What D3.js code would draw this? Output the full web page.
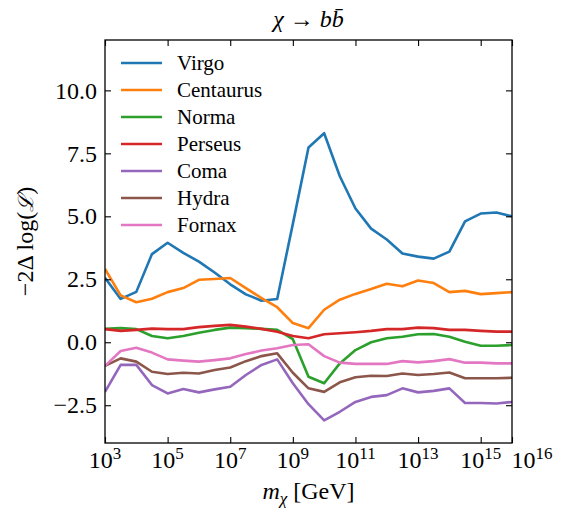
<!DOCTYPE html>
<html>
<head>
<meta charset="utf-8">
<script src="https://cdn.jsdelivr.net/npm/d3@7"></script>
<style>
  body { margin: 0; background: #fff; }
</style>
</head>
<body>
<div class="visHolder"></div>
<script>
// log10 of the mass grid (GeV)
const logMass = [3, 3.5, 4, 4.5, 5, 5.5, 6, 6.5, 7, 7.5, 8, 8.5, 9, 9.5,
  10, 10.5, 11, 11.5, 12, 12.5, 13, 13.5, 14, 14.5, 15, 15.5, 16];

const clusters = ['Virgo', 'Centaurus', 'Norma', 'Perseus', 'Coma', 'Hydra', 'Fornax'];
const colors = ['#1f77b4', '#ff7f0e', '#2ca02c', '#d62728', '#9467bd', '#8c564b', '#e377c2'];

const virgo = [2.56, 1.72, 2.0, 3.5, 3.95, 3.55, 3.2, 2.77, 2.3, 1.9, 1.65, 1.72, 4.7, 7.73,
  8.3, 6.59, 5.31, 4.51, 4.08, 3.52, 3.4, 3.32, 3.6, 4.8, 5.11, 5.15, 5.0];
const centaurus = [2.91, 1.86, 1.59, 1.73, 1.99, 2.15, 2.48, 2.51, 2.55, 2.15, 1.75, 1.39, 0.76, 0.56,
  1.29, 1.69, 1.92, 2.11, 2.32, 2.22, 2.45, 2.35, 1.99, 2.04, 1.91, 1.95, 1.99];
const norma = [0.53, 0.56, 0.52, 0.25, 0.16, 0.25, 0.38, 0.49, 0.58, 0.56, 0.53, 0.49, 0.12, -1.37,
  -1.63, -0.84, -0.31, 0.0, 0.16, 0.22, 0.32, 0.33, 0.22, 0.02, -0.14, -0.14, -0.11];
const perseus = [0.52, 0.45, 0.49, 0.54, 0.52, 0.52, 0.6, 0.65, 0.69, 0.62, 0.53, 0.42, 0.25, 0.16,
  0.32, 0.36, 0.4, 0.45, 0.52, 0.52, 0.58, 0.56, 0.49, 0.49, 0.45, 0.42, 0.42];
const coma = [-1.97, -0.9, -0.9, -1.7, -2.03, -1.86, -1.99, -1.87, -1.77, -1.3, -0.9, -0.68, -1.63, -2.46,
  -3.1, -2.76, -2.37, -2.17, -2.1, -1.83, -1.99, -1.93, -1.83, -2.41, -2.41, -2.43, -2.37];
const hydra = [-0.94, -0.64, -0.77, -1.17, -1.26, -1.21, -1.24, -1.1, -1.0, -0.75, -0.55, -0.44, -1.21, -1.83,
  -1.97, -1.59, -1.39, -1.33, -1.34, -1.24, -1.3, -1.26, -1.2, -1.43, -1.43, -1.43, -1.41];
const fornax = [-0.94, -0.35, -0.22, -0.41, -0.68, -0.73, -0.77, -0.71, -0.64, -0.47, -0.33, -0.24, -0.11, -0.08,
  -0.55, -0.81, -0.86, -0.86, -0.86, -0.75, -0.8, -0.75, -0.67, -0.81, -0.81, -0.84, -0.84];

const xTickExp = [3, 5, 7, 9, 11, 13, 15, 16];
const yTicks = [-2.5, 0.0, 2.5, 5.0, 7.5, 10.0];

const series = [virgo, centaurus, norma, perseus, coma, hydra, fornax];

const w = 565, h = 518;
const padLeft = 105, padRight = 512, padTop = 40, padBottom = 443;
const serif = "'Liberation Serif', 'DejaVu Serif', serif";

const svg = d3.select('.visHolder')
  .append('svg')
  .attr('width', w)
  .attr('height', h)
  .style('display', 'block');

const xScale = d3.scaleLog()
  .domain([1e3, 1e16])
  .range([padLeft, padRight]);

const yScale = d3.scaleLinear()
  .domain([-4, 12])
  .range([padBottom, padTop]);

// lines
const line = d3.line()
  .x((d, i) => xScale(Math.pow(10, logMass[i])))
  .y(d => yScale(d));

const plot = svg.append('g');
plot.append('clipPath').attr('id', 'clip')
  .append('rect')
  .attr('x', padLeft).attr('y', padTop)
  .attr('width', padRight - padLeft).attr('height', padBottom - padTop);

plot.selectAll('path.curve')
  .data(series)
  .join('path')
  .attr('class', 'curve')
  .attr('clip-path', 'url(#clip)')
  .attr('fill', 'none')
  .attr('stroke', (d, i) => colors[i])
  .attr('stroke-width', 2.6)
  .attr('stroke-linejoin', 'round')
  .attr('d', line);

// axes: ticks pointing inward on all four sides
const xVals = xTickExp.map(e => Math.pow(10, e));
const tickLen = 6;

const styleAxis = g => {
  g.select('.domain').remove();
  g.selectAll('line').attr('stroke', '#000').attr('stroke-width', 1.1);
  g.selectAll('text').remove();
};

svg.append('g')
  .attr('transform', `translate(0, ${padBottom})`)
  .call(d3.axisTop(xScale).tickValues(xVals).tickSize(tickLen).tickFormat(''))
  .call(styleAxis);
svg.append('g')
  .attr('transform', `translate(0, ${padTop})`)
  .call(d3.axisBottom(xScale).tickValues(xVals).tickSize(tickLen).tickFormat(''))
  .call(styleAxis);
svg.append('g')
  .attr('transform', `translate(${padLeft}, 0)`)
  .call(d3.axisRight(yScale).tickValues(yTicks).tickSize(tickLen).tickFormat(''))
  .call(styleAxis);
svg.append('g')
  .attr('transform', `translate(${padRight}, 0)`)
  .call(d3.axisLeft(yScale).tickValues(yTicks).tickSize(tickLen).tickFormat(''))
  .call(styleAxis);

// frame
svg.append('rect')
  .attr('x', padLeft).attr('y', padTop)
  .attr('width', padRight - padLeft).attr('height', padBottom - padTop)
  .attr('fill', 'none')
  .attr('stroke', '#000')
  .attr('stroke-width', 1.3);

// x tick labels 10^n (the last one sits right of the frame corner)
const xLab = svg.selectAll('text.xtick')
  .data(xTickExp)
  .join('text')
  .attr('class', 'xtick')
  .attr('font-family', serif)
  .attr('x', d => xScale(Math.pow(10, d)) + (d === 16 ? 20 : 0))
  .attr('y', 468)
  .attr('text-anchor', 'middle')
  .attr('font-size', 24);
xLab.append('tspan').text('10');
xLab.append('tspan')
  .attr('font-size', 17)
  .attr('dy', -9)
  .text(d => d);

// y tick labels
svg.selectAll('text.ytick')
  .data(yTicks)
  .join('text')
  .attr('class', 'ytick')
  .attr('font-family', serif)
  .attr('x', 97)
  .attr('y', d => yScale(d))
  .attr('dy', '0.34em')
  .attr('text-anchor', 'end')
  .attr('font-size', 24)
  .text(d => (d < 0 ? '\u2212' : '') + Math.abs(d).toFixed(1));

// title
const title = svg.append('text')
  .attr('font-family', serif)
  .attr('x', (padLeft + padRight) / 2)
  .attr('y', 27)
  .attr('text-anchor', 'middle')
  .attr('font-size', 24);
title.append('tspan').attr('font-style', 'italic').text('\u03c7');
title.append('tspan').text(' \u2192 ');
title.append('tspan').attr('font-style', 'italic').text('b');
title.append('tspan').attr('font-style', 'italic').text('b\u0304');

// x label
const xl = svg.append('text')
  .attr('font-family', serif)
  .attr('x', (padLeft + padRight) / 2)
  .attr('y', 499)
  .attr('text-anchor', 'middle')
  .attr('font-size', 24);
xl.append('tspan').attr('font-style', 'italic').text('m');
xl.append('tspan').attr('font-style', 'italic').attr('font-size', 17).attr('dy', 5).text('\u03c7');
xl.append('tspan').attr('dy', -5).text(' [GeV]');

// y label
const yl = svg.append('text')
  .attr('font-family', serif)
  .attr('transform', `translate(33, ${(padTop + padBottom) / 2}) rotate(-90)`)
  .attr('text-anchor', 'middle')
  .attr('font-size', 24);
yl.append('tspan').text('\u22122\u0394 log(');
yl.append('tspan').attr('font-family', "'DejaVu Serif', serif").attr('font-style', 'italic').attr('font-size', 21).text('\u2112');
yl.append('tspan').text(')');

// legend
const legend = svg.append('g');
const rowY = i => 63 + i * 27;
legend.selectAll('line')
  .data(clusters)
  .join('line')
  .attr('x1', 121).attr('x2', 162)
  .attr('y1', (d, i) => rowY(i)).attr('y2', (d, i) => rowY(i))
  .attr('stroke', (d, i) => colors[i])
  .attr('stroke-width', 2.6);
legend.selectAll('text')
  .data(clusters)
  .join('text')
  .attr('font-family', serif)
  .attr('x', 177)
  .attr('y', (d, i) => rowY(i))
  .attr('dy', '0.35em')
  .attr('font-size', 21)
  .text(d => d);
</script>
</body>
</html>
